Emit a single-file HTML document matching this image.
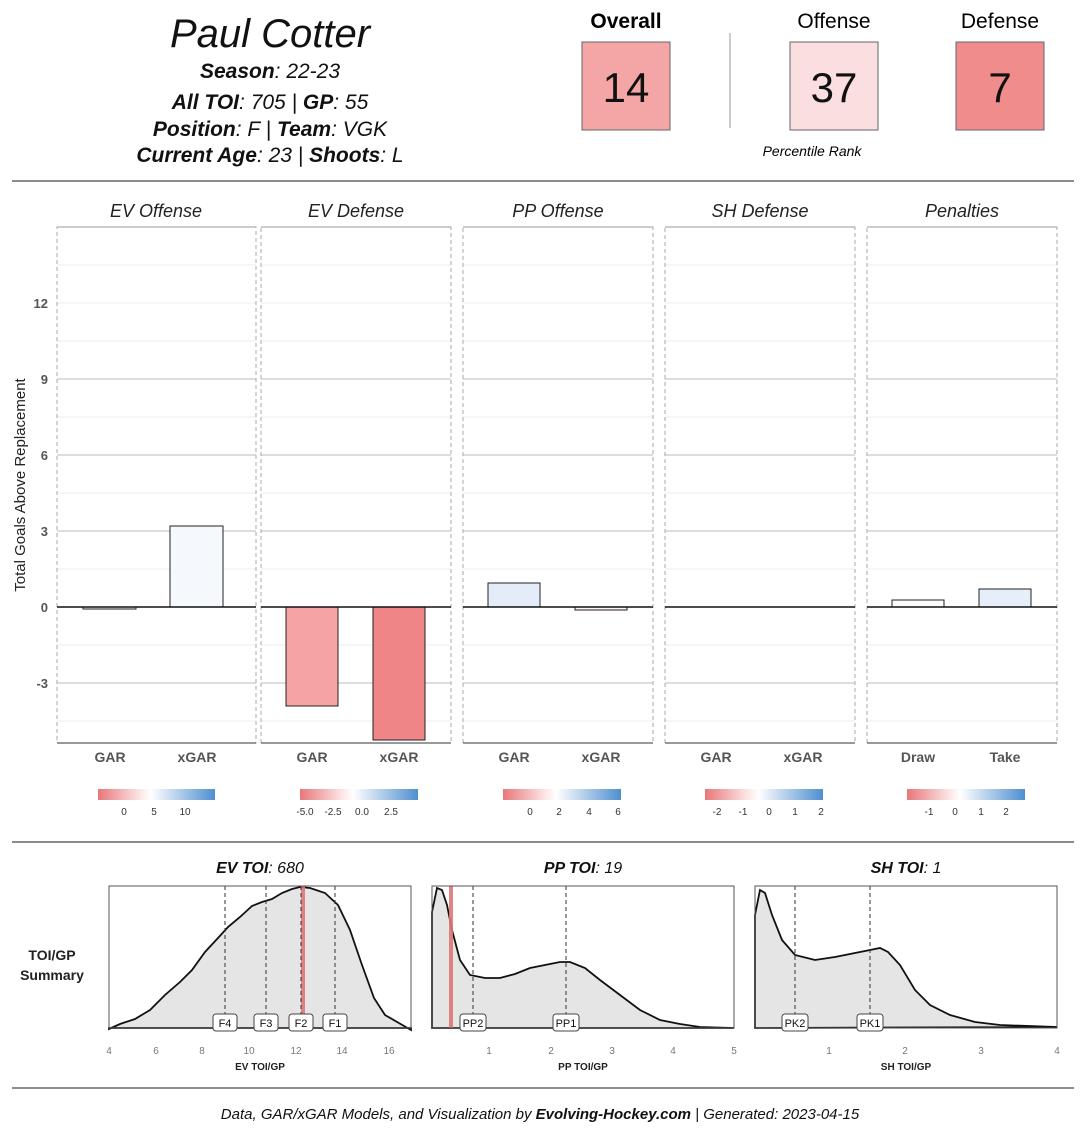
<!DOCTYPE html>
<html><head><meta charset="utf-8"><style>
html,body{margin:0;padding:0;background:#fff}
svg text{font-family:"Liberation Sans",sans-serif}
</style></head><body>
<svg width="1080" height="1131" viewBox="0 0 1080 1131" xmlns="http://www.w3.org/2000/svg">
<defs>
<linearGradient id="cb" x1="0" x2="1"><stop offset="0" stop-color="#e8777a"/><stop offset="0.35" stop-color="#fbe3e3"/><stop offset="0.45" stop-color="#fff"/><stop offset="1" stop-color="#4f8fd0"/></linearGradient>
</defs>
<!-- header -->
<text x="270" y="47" font-size="40" font-style="italic" text-anchor="middle" fill="#111">Paul Cotter</text>
<g font-size="21" font-style="italic" text-anchor="middle" fill="#111">
<text x="270" y="78"><tspan font-weight="bold">Season</tspan>: 22-23</text>
<text x="270" y="109"><tspan font-weight="bold">All TOI</tspan>: 705 | <tspan font-weight="bold">GP</tspan>: 55</text>
<text x="270" y="136"><tspan font-weight="bold">Position</tspan>: F | <tspan font-weight="bold">Team</tspan>: VGK</text>
<text x="270" y="162"><tspan font-weight="bold">Current Age</tspan>: 23 | <tspan font-weight="bold">Shoots</tspan>: L</text>
</g>
<text x="626" y="28" font-size="21" font-weight="bold" text-anchor="middle">Overall</text>
<text x="834" y="28" font-size="21" text-anchor="middle">Offense</text>
<text x="1000" y="28" font-size="21" text-anchor="middle">Defense</text>
<rect x="582" y="42" width="88" height="88" fill="#f4a6a6" stroke="#666"/>
<rect x="790" y="42" width="88" height="88" fill="#fbdfe0" stroke="#666"/>
<rect x="956" y="42" width="88" height="88" fill="#f08c8c" stroke="#666"/>
<g font-size="42" text-anchor="middle" fill="#111"><text x="626" y="102">14</text><text x="834" y="102">37</text><text x="1000" y="102">7</text></g>
<line x1="730" y1="33" x2="730" y2="128" stroke="#999"/>
<text x="812" y="156" font-size="14" font-style="italic" text-anchor="middle">Percentile Rank</text>
<line x1="12" y1="181" x2="1074" y2="181" stroke="#666" stroke-width="1.5"/>
<!-- axis label -->
<text transform="translate(25,485) rotate(-90)" font-size="15" text-anchor="middle" fill="#222">Total Goals Above Replacement</text>
<g font-size="13" font-weight="bold" fill="#555" text-anchor="end">
<text x="48" y="308">12</text><text x="48" y="384">9</text><text x="48" y="460">6</text><text x="48" y="536">3</text><text x="48" y="612">0</text><text x="48" y="688">-3</text></g>
<!-- panels -->
<g id="panels">
<g font-size="18" font-style="italic" text-anchor="middle" fill="#222">
<text x="156" y="217">EV Offense</text><text x="356" y="217">EV Defense</text><text x="558" y="217">PP Offense</text><text x="760" y="217">SH Defense</text><text x="962" y="217">Penalties</text></g>
</g>
<g stroke-width="1">
<!-- panel backgrounds, grids -->
<g stroke="#eee"><line x1="57" y1="303" x2="1057" y2="303"/><line x1="57" y1="341" x2="1057" y2="341"/><line x1="57" y1="417" x2="1057" y2="417"/><line x1="57" y1="493" x2="1057" y2="493"/><line x1="57" y1="569" x2="1057" y2="569"/><line x1="57" y1="645" x2="1057" y2="645"/><line x1="57" y1="721" x2="1057" y2="721"/><line x1="57" y1="265" x2="1057" y2="265"/></g>
<g stroke="#bbb"><line x1="57" y1="379" x2="1057" y2="379"/><line x1="57" y1="455" x2="1057" y2="455"/><line x1="57" y1="531" x2="1057" y2="531"/><line x1="57" y1="683" x2="1057" y2="683"/></g>
</g>
<!-- white gaps between panels -->
<g fill="#fff"><rect x="256" y="220" width="5" height="530"/><rect x="451" y="220" width="12" height="530"/><rect x="653" y="220" width="12" height="530"/><rect x="855" y="220" width="12" height="530"/></g>
<g fill="none" stroke="#aaa" stroke-dasharray="4,3">
<rect x="57" y="227" width="199" height="516"/><rect x="261" y="227" width="190" height="516"/><rect x="463" y="227" width="190" height="516"/><rect x="665" y="227" width="190" height="516"/><rect x="867" y="227" width="190" height="516"/></g>
<g stroke="#999"><line x1="57" y1="227" x2="256" y2="227"/><line x1="261" y1="227" x2="451" y2="227"/><line x1="463" y1="227" x2="653" y2="227"/><line x1="665" y1="227" x2="855" y2="227"/><line x1="867" y1="227" x2="1057" y2="227"/></g>
<g stroke="#333"><line x1="57" y1="743" x2="256" y2="743"/><line x1="261" y1="743" x2="451" y2="743"/><line x1="463" y1="743" x2="653" y2="743"/><line x1="665" y1="743" x2="855" y2="743"/><line x1="867" y1="743" x2="1057" y2="743"/></g>
<!-- bars -->
<g stroke="#222" stroke-width="1">
<rect x="83" y="607" width="53" height="2" fill="#f9f9fb"/>
<rect x="170" y="526" width="53" height="81" fill="#f5f8fd"/>
<rect x="286" y="607" width="52" height="99" fill="#f5a3a3"/>
<rect x="373" y="607" width="52" height="133" fill="#ef8586"/>
<rect x="488" y="583" width="52" height="24" fill="#e3ecf8"/>
<rect x="575" y="607" width="52" height="3" fill="#fdf3f3"/>
<rect x="892" y="600" width="52" height="7" fill="#fcfcfc"/>
<rect x="979" y="589" width="52" height="18" fill="#e6eef9"/>
</g>
<g stroke="#111" stroke-width="1.5"><line x1="57" y1="607" x2="256" y2="607"/><line x1="261" y1="607" x2="451" y2="607"/><line x1="463" y1="607" x2="653" y2="607"/><line x1="665" y1="607" x2="855" y2="607"/><line x1="867" y1="607" x2="1057" y2="607"/></g>
<g font-size="14" font-weight="bold" fill="#555" text-anchor="middle">
<text x="110" y="762">GAR</text><text x="197" y="762">xGAR</text><text x="312" y="762">GAR</text><text x="399" y="762">xGAR</text><text x="514" y="762">GAR</text><text x="601" y="762">xGAR</text><text x="716" y="762">GAR</text><text x="803" y="762">xGAR</text><text x="918" y="762">Draw</text><text x="1005" y="762">Take</text></g>
<!-- colorbars -->
<g fill="url(#cb)"><rect x="98" y="789" width="117" height="11"/><rect x="300" y="789" width="118" height="11"/><rect x="503" y="789" width="118" height="11"/><rect x="705" y="789" width="118" height="11"/><rect x="907" y="789" width="118" height="11"/></g>
<g font-size="10" fill="#333" text-anchor="middle">
<text x="124" y="815">0</text><text x="154" y="815">5</text><text x="185" y="815">10</text>
<text x="305" y="815">-5.0</text><text x="333" y="815">-2.5</text><text x="362" y="815">0.0</text><text x="391" y="815">2.5</text>
<text x="530" y="815">0</text><text x="559" y="815">2</text><text x="589" y="815">4</text><text x="618" y="815">6</text>
<text x="717" y="815">-2</text><text x="743" y="815">-1</text><text x="769" y="815">0</text><text x="795" y="815">1</text><text x="821" y="815">2</text>
<text x="929" y="815">-1</text><text x="955" y="815">0</text><text x="981" y="815">1</text><text x="1006" y="815">2</text></g>
<line x1="12" y1="842" x2="1074" y2="842" stroke="#666" stroke-width="1.5"/>
<!-- bottom -->
<g font-size="16" font-style="italic" text-anchor="middle" fill="#111">
<text x="260" y="873"><tspan font-weight="bold">EV TOI</tspan>: 680</text>
<text x="583" y="873"><tspan font-weight="bold">PP TOI</tspan>: 19</text>
<text x="906" y="873"><tspan font-weight="bold">SH TOI</tspan>: 1</text></g>
<g font-size="14" font-weight="bold" text-anchor="middle" fill="#222"><text x="52" y="960">TOI/GP</text><text x="52" y="980">Summary</text></g>
<g fill="#e5e5e5" stroke="#111" stroke-width="1.8">
<path d="M109,1029 L120,1024 135,1019 150,1010 165,995 180,982 192,970 205,952 218,938 228,927 240,917 252,906 262,902 272,899 282,893 292,889 300,887 310,888 325,893 338,905 350,930 362,965 374,998 385,1015 411,1030 L411,1028 L109,1028Z"/>
<path d="M432,912 L437,888 442,890 447,905 452,930 460,960 470,975 485,978 500,978 515,974 530,968 545,965 560,962 570,962 585,968 600,980 620,995 640,1010 660,1020 680,1024 700,1027 734,1028 L432,1028Z"/>
<path d="M755,915 L760,890 765,893 772,915 782,940 795,955 815,960 835,957 855,953 870,950 880,948 888,952 900,965 915,990 930,1005 950,1015 975,1022 1000,1025 1057,1027 L755,1028Z"/>
</g>
<g stroke="#e07777" stroke-width="4" opacity="0.9"><line x1="303" y1="886" x2="303" y2="1028"/><line x1="451" y1="886" x2="451" y2="1028"/></g>
<g stroke="#333" stroke-dasharray="4,3"><line x1="225" y1="886" x2="225" y2="1028"/><line x1="266" y1="886" x2="266" y2="1028"/><line x1="301" y1="886" x2="301" y2="1028"/><line x1="335" y1="886" x2="335" y2="1028"/><line x1="473" y1="886" x2="473" y2="1028"/><line x1="566" y1="886" x2="566" y2="1028"/><line x1="795" y1="886" x2="795" y2="1028"/><line x1="870" y1="886" x2="870" y2="1028"/></g>
<g fill="none" stroke="#555"><rect x="109" y="886" width="302" height="142"/><rect x="432" y="886" width="302" height="142"/><rect x="755" y="886" width="302" height="142"/></g>
<g fill="#fff" stroke="#444"><rect x="213" y="1014" width="24" height="17" rx="3"/><rect x="254" y="1014" width="24" height="17" rx="3"/><rect x="289" y="1014" width="24" height="17" rx="3"/><rect x="323" y="1014" width="24" height="17" rx="3"/><rect x="460" y="1014" width="26" height="17" rx="3"/><rect x="553" y="1014" width="26" height="17" rx="3"/><rect x="782" y="1014" width="26" height="17" rx="3"/><rect x="857" y="1014" width="26" height="17" rx="3"/></g>
<g font-size="11" text-anchor="middle" fill="#111"><text x="225" y="1027">F4</text><text x="266" y="1027">F3</text><text x="301" y="1027">F2</text><text x="335" y="1027">F1</text><text x="473" y="1027">PP2</text><text x="566" y="1027">PP1</text><text x="795" y="1027">PK2</text><text x="870" y="1027">PK1</text></g>
<g font-size="10" fill="#777" text-anchor="middle">
<text x="109" y="1054">4</text><text x="156" y="1054">6</text><text x="202" y="1054">8</text><text x="249" y="1054">10</text><text x="296" y="1054">12</text><text x="342" y="1054">14</text><text x="389" y="1054">16</text>
<text x="489" y="1054">1</text><text x="551" y="1054">2</text><text x="612" y="1054">3</text><text x="673" y="1054">4</text><text x="734" y="1054">5</text>
<text x="829" y="1054">1</text><text x="905" y="1054">2</text><text x="981" y="1054">3</text><text x="1057" y="1054">4</text></g>
<g font-size="10" font-weight="bold" fill="#222" text-anchor="middle"><text x="260" y="1070">EV TOI/GP</text><text x="583" y="1070">PP TOI/GP</text><text x="906" y="1070">SH TOI/GP</text></g>
<line x1="12" y1="1088" x2="1074" y2="1088" stroke="#666" stroke-width="1.5"/>
<text x="540" y="1119" font-size="15" font-style="italic" text-anchor="middle" fill="#111">Data, GAR/xGAR Models, and Visualization by <tspan font-weight="bold">Evolving-Hockey.com</tspan> | Generated: 2023-04-15</text>
</svg>
</body></html>
